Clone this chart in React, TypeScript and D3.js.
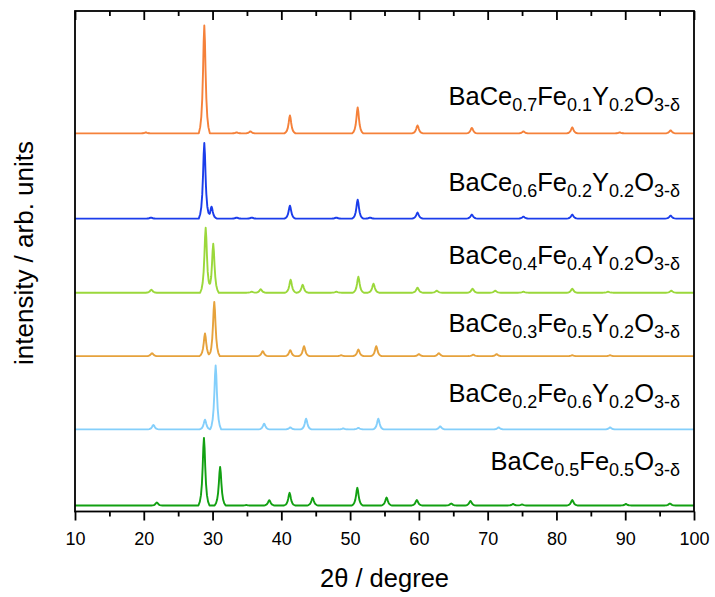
import React, { useEffect, useRef } from "react";
import * as d3 from "d3";

const width = 715;
const height = 597;
const margin = { top: 11, right: 21, bottom: 85.5, left: 75 };

const xMajorTicks = [10, 20, 30, 40, 50, 60, 70, 80, 90, 100];
const xMinorTicks = [15, 25, 35, 45, 55, 65, 75, 85, 95];

// top to bottom
const sampleLabels = [
  ["BaCe", "0.7", "Fe", "0.1", "Y", "0.2", "O", "3-δ"],
  ["BaCe", "0.6", "Fe", "0.2", "Y", "0.2", "O", "3-δ"],
  ["BaCe", "0.4", "Fe", "0.4", "Y", "0.2", "O", "3-δ"],
  ["BaCe", "0.3", "Fe", "0.5", "Y", "0.2", "O", "3-δ"],
  ["BaCe", "0.2", "Fe", "0.6", "Y", "0.2", "O", "3-δ"],
  ["BaCe", "0.5", "Fe", "0.5", "O", "3-δ"],
];
const sampleColors = ["#f5813a", "#1b3deb", "#9bd83b", "#e6a23c", "#84cffb", "#12a012"];
const stackOffsets = [3785, 2932, 2190, 1555, 822, 60];

// reflections: [2θ, intensity]
const peaksFe01 = [
  [20.3, 10], [28.8, 1080], [33.5, 10], [35.5, 20], [41.25, 180], [51.1, 260],
  [59.8, 80], [67.7, 55], [75.2, 20], [82.3, 60], [89.2, 10], [96.6, 30],
];
const peaksFe02 = [
  [21.05, 10], [28.8, 756], [29.85, 120], [33.5, 10], [35.7, 10], [41.25, 130],
  [48.0, 10], [51.1, 190], [52.9, 10], [59.8, 60], [67.7, 40], [75.2, 20],
  [82.3, 40], [96.6, 30],
];
const peaksFe04 = [
  [21.1, 30], [29.0, 650], [30.1, 490], [35.7, 10], [37.0, 34], [41.35, 130],
  [43.1, 80], [48.0, 10], [51.2, 160], [53.4, 90], [59.8, 50], [62.6, 20],
  [67.8, 40], [71.1, 20], [75.2, 10], [82.3, 40], [87.5, 10], [96.7, 20],
];
const peaksFe05 = [
  [21.2, 30], [28.9, 227], [30.25, 543], [37.3, 50], [41.3, 60], [43.3, 100],
  [48.7, 10], [51.2, 67], [53.8, 100], [60.0, 20], [62.9, 30], [67.9, 15],
  [71.3, 20], [82.3, 10], [87.8, 10],
];
const peaksFe06 = [
  [21.4, 45], [28.9, 97], [30.45, 640], [37.5, 57], [41.3, 20], [43.6, 107],
  [49.0, 10], [51.2, 15], [54.1, 107], [63.1, 30], [71.6, 20], [87.8, 20],
];
const peaksBCF55 = [
  [21.9, 30], [28.75, 677], [31.1, 387], [34.9, 5], [38.25, 53], [41.2, 127],
  [44.55, 77], [51.05, 177], [55.3, 80], [59.7, 55], [64.7, 20], [67.5, 45],
  [73.7, 15], [75.0, 10], [82.3, 55], [90.1, 15], [96.5, 20],
];
const samplePeaks = [peaksFe01, peaksFe02, peaksFe04, peaksFe05, peaksFe06, peaksBCF55];

// label lift above each baseline, px
const labelLift = [28, 28, 29, 24, 27, 36];

const hwhm = 0.23;
const nodes = [-3.5, -2.6, -1.9, -1.3, -0.8, -0.4, 0, 0.4, 0.8, 1.3, 1.9, 2.6, 3.5];

function profile(peaks: number[][]) {
  const xs = [10, 100];
  peaks.forEach(([p]) => nodes.forEach(n => xs.push(p + n * hwhm)));
  xs.sort((a, b) => a - b);
  return xs.map(x => {
    let y = 0;
    peaks.forEach(([p, h]) => {
      const u = (x - p) / hwhm;
      if (Math.abs(u) <= 3.5) y += (h * (1 / (1 + u * u) - 0.0755)) / (1 - 0.0755);
    });
    return [x, Math.max(0, y)];
  });
}

const fontFamily = "Arial, 'Liberation Sans', sans-serif";

export default function App() {
  const axisRef = useRef<SVGGElement>(null);

  const x = d3.scaleLinear().domain([10, 100]).range([margin.left, width - margin.right]);
  const y = d3.scaleLinear().domain([0, 5010]).range([height - margin.bottom, margin.top]);

  useEffect(() => {
    const g = d3.select(axisRef.current);
    g.selectAll("*").remove();
    const bottom = height - margin.bottom;

    const styleAxis = sel => {
      sel.select(".domain").remove();
      sel.selectAll("line").attr("stroke", "#000").attr("stroke-width", 1.8);
      sel.selectAll("text").attr("fill", "#000").attr("font-size", 18).attr("font-family", fontFamily);
    };

    g.append("g")
      .attr("transform", `translate(0,${bottom})`)
      .call(d3.axisBottom(x).tickValues(xMajorTicks).tickSize(9).tickPadding(12).tickFormat(d3.format("d")))
      .call(styleAxis);
    g.append("g")
      .attr("transform", `translate(0,${bottom})`)
      .call(d3.axisBottom(x).tickValues(xMinorTicks).tickSize(5).tickFormat(() => ""))
      .call(styleAxis);
    g.append("g")
      .attr("transform", `translate(0,${margin.top})`)
      .call(d3.axisBottom(x).tickValues(xMajorTicks).tickSize(9).tickFormat(() => ""))
      .call(styleAxis);
    g.append("g")
      .attr("transform", `translate(0,${margin.top})`)
      .call(d3.axisBottom(x).tickValues(xMinorTicks).tickSize(5).tickFormat(() => ""))
      .call(styleAxis);
  }, []);

  const line = d3.line().x(d => x(d[0])).y(d => y(d[1]));

  return (
    <svg width={width} height={height} style={{ position: "absolute", left: 0, top: 0, background: "#fff" }}>
      {samplePeaks.map((peaks, i) => (
        <path
          key={i}
          d={line(profile(peaks).map(([a, b]) => [a, b + stackOffsets[i]]))}
          fill="none"
          stroke={sampleColors[i]}
          strokeWidth={1.9}
          strokeLinejoin="round"
        />
      ))}
      {sampleLabels.map((parts, i) => (
        <text
          key={i}
          x={width - 35}
          y={y(stackOffsets[i]) - labelLift[i]}
          textAnchor="end"
          fontFamily={fontFamily}
          fontSize={25.5}
          fill="#000"
        >
          {parts.map((p, j) =>
            j % 2 === 0 ? (
              <tspan key={j} dy={j === 0 ? 0 : -6}>{p}</tspan>
            ) : (
              <tspan key={j} fontSize={18} dy={6}>{p}</tspan>
            )
          )}
        </text>
      ))}
      <rect
        x={margin.left}
        y={margin.top}
        width={width - margin.left - margin.right}
        height={height - margin.top - margin.bottom}
        fill="none"
        stroke="#000"
        strokeWidth={1.8}
      />
      <g ref={axisRef} />
      <text
        x={(margin.left + width - margin.right) / 2}
        y={587}
        textAnchor="middle"
        fontFamily={fontFamily}
        fontSize={25.5}
        fill="#000"
      >
        2θ / degree
      </text>
      <text
        transform="translate(33,253) rotate(-90)"
        textAnchor="middle"
        fontFamily={fontFamily}
        fontSize={26}
        fill="#000"
      >
        intensity / arb. units
      </text>
    </svg>
  );
}
